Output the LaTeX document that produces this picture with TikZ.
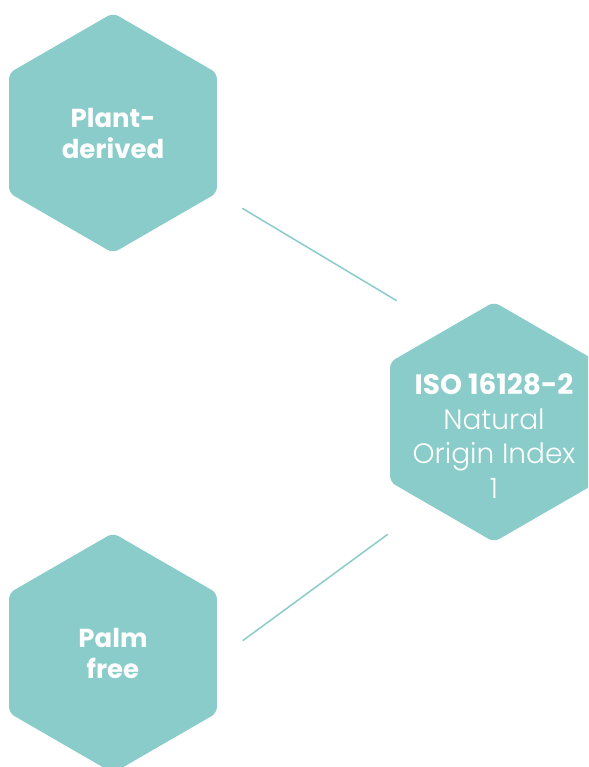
\documentclass[tikz,border=0pt]{standalone}
\usepackage{fontspec}
\setmainfont{Poppins}
\newfontfamily\lightfont{Poppins Light}
\usetikzlibrary{shapes.geometric}
\definecolor{teal}{HTML}{89CCC9}
\tikzset{
  hexa/.style={regular polygon, regular polygon sides=6, regular polygon rotate=30,
    minimum size=240pt, inner sep=0pt, fill=teal, rounded corners=6pt,
    text=white, align=center},
  hexlabel/.style={text=white, align=center, inner sep=0pt},
  link/.style={draw=teal, line width=1.5pt}
}
\begin{document}
\begin{tikzpicture}[x=1pt,y=-1pt]
\useasboundingbox (0,0) rectangle (588,767);
\clip (0,0) rectangle (588,767);
\node[hexa, font=\bfseries\fontsize{26}{31}\selectfont] (plant) at (113,133) {Plant-\\derived};
\node[hexa] (iso) at (494,422) {};
\node[hexlabel, font=\fontsize{28}{34.5}\selectfont] (isotext) at (494,436)
  {\textbf{ISO 16128-2}\\{\lightfont Natural}\\{\lightfont Origin Index}\\{\lightfont 1}};
\node[hexa, font=\bfseries\fontsize{26}{31}\selectfont] (palm) at (113,653) {Palm\\free};
\coordinate (p1) at (242.3,208.3);
\coordinate (p2) at (396.7,300.7);
\coordinate (q1) at (242.7,640.7);
\coordinate (q2) at (387.7,534.3);
\draw[link] (p1) -- (p2);
\draw[link] (q1) -- (q2);
\end{tikzpicture}
\end{document}
